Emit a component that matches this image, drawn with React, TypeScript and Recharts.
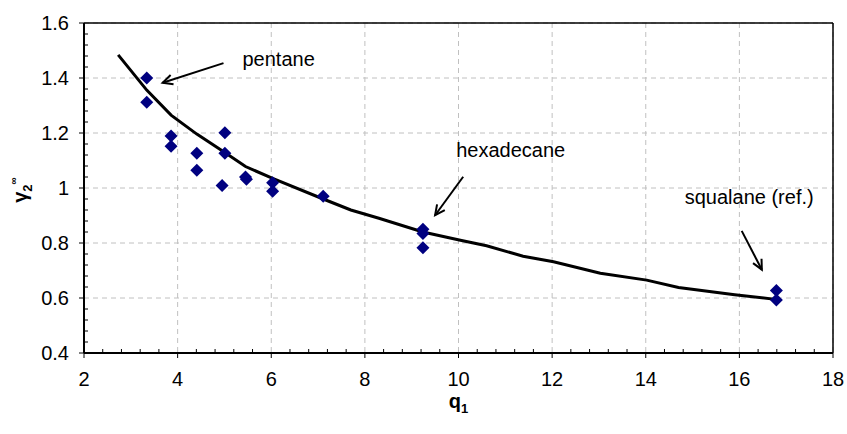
import {
  CartesianGrid,
  ComposedChart,
  Label,
  Line,
  ReferenceLine,
  Scatter,
  XAxis,
  YAxis,
} from "recharts";

// model curve, gamma2 at infinite dilution vs q1
const curveQ = [2.73, 3.34, 3.86, 4.41, 5.0, 5.45, 6.03, 7.11, 7.7, 8.3, 9.24, 10.04, 10.6, 11.38, 12.03, 13.03, 14.02, 14.7, 15.9, 16.77];
const curveGamma = [1.484, 1.356, 1.265, 1.196, 1.13, 1.078, 1.035, 0.96, 0.92, 0.89, 0.84, 0.81, 0.79, 0.752, 0.732, 0.69, 0.665, 0.638, 0.612, 0.595];

// measured solvents
const solventQ = [3.34, 3.34, 3.86, 3.86, 4.41, 4.41, 4.95, 5.01, 5.01, 5.45, 5.47, 6.03, 6.03, 7.11, 9.24, 9.24, 9.24, 16.79, 16.79];
const solventGamma = [1.4, 1.312, 1.189, 1.152, 1.126, 1.065, 1.009, 1.201, 1.126, 1.04, 1.032, 1.019, 0.988, 0.97, 0.85, 0.835, 0.783, 0.627, 0.593];

const xTicks = [2, 4, 6, 8, 10, 12, 14, 16, 18];
const yTicks = [0.4, 0.6, 0.8, 1, 1.2, 1.4, 1.6];

// callouts: text, arrow tail and arrow head in (q1, gamma)
const noteText = ["pentane", "hexadecane", "squalane (ref.)"];
const noteTail = [[4.98, 1.454], [10.1, 1.041], [16.05, 0.844]];
const noteHead = [[3.68, 1.383], [9.5, 0.901], [16.48, 0.703]];
const noteTextOffset = [[19, 3], [-7, -20], [-57, -27]];

const curve = curveQ.map((q, i) => ({ q, gamma: curveGamma[i] }));
const solvents = solventQ.map((q, i) => ({ q, gamma: solventGamma[i] }));

const minorX: number[] = [];
for (let i = 1; i < 40; i++) if (i % 5 !== 0) minorX.push(2 + i * 0.4);
const minorY: number[] = [];
for (let i = 1; i < 30; i++) if (i % 5 !== 0) minorY.push(0.4 + i * 0.04);

const FONT = "'Liberation Sans', Arial, Helvetica, sans-serif";
const TICK = { fontSize: 20, fill: "#000", fontFamily: FONT } as const;
const NAVY = "#000080";

function Diamond(props: any) {
  const { cx, cy } = props;
  if (cx == null || cy == null) return <g />;
  const r = 6.5;
  return (
    <polygon
      points={`${cx},${cy - r} ${cx + r},${cy} ${cx},${cy + r} ${cx - r},${cy}`}
      fill={NAVY}
    />
  );
}

function arrowShape(text: string, dx: number, dy: number) {
  return (p: any) => {
    const { x1, y1, x2, y2 } = p;
    const a = Math.atan2(y2 - y1, x2 - x1);
    const len = 11;
    const spread = 0.45;
    const hx1 = x2 - len * Math.cos(a - spread);
    const hy1 = y2 - len * Math.sin(a - spread);
    const hx2 = x2 - len * Math.cos(a + spread);
    const hy2 = y2 - len * Math.sin(a + spread);
    return (
      <g>
        <line x1={x1} y1={y1} x2={x2} y2={y2} stroke="#000" strokeWidth={2} />
        <polyline
          points={`${hx1},${hy1} ${x2},${y2} ${hx2},${hy2}`}
          fill="none"
          stroke="#000"
          strokeWidth={2}
        />
        <text x={x1 + dx} y={y1 + dy} fontSize={20} fontFamily={FONT} fill="#000">
          {text}
        </text>
      </g>
    );
  };
}

// short inward ticks on the bottom axis
function minorXTick(p: any) {
  const y = Math.max(p.y1, p.y2);
  return <line x1={p.x1} x2={p.x1} y1={y} y2={y - 4} stroke="#000" strokeWidth={1} />;
}

// short inward ticks on the left axis
function minorYTick(p: any) {
  const x = Math.min(p.x1, p.x2);
  return <line x1={x} x2={x + 4} y1={p.y1} y2={p.y1} stroke="#000" strokeWidth={1} />;
}

function QLabel(props: any) {
  const { x, y, width } = props.viewBox;
  return (
    <text x={x + width / 2} y={y + 55} textAnchor="middle" fontFamily={FONT} fontWeight="bold" fill="#000">
      <tspan fontSize={20}>q</tspan>
      <tspan fontSize={13} dy={5}>1</tspan>
    </text>
  );
}

function GammaLabel(props: any) {
  const { y, height } = props.viewBox;
  const cx = 27;
  const cy = y + height / 2 + 2;
  return (
    <text
      x={cx}
      y={cy}
      transform={`rotate(-90, ${cx}, ${cy})`}
      textAnchor="middle"
      fontFamily={FONT}
      fontWeight="bold"
      fill="#000"
    >
      <tspan fontSize={20}>γ</tspan>
      <tspan fontSize={13} dy={5}>2</tspan>
      <tspan fontSize={10} dy={-15}>∞</tspan>
    </text>
  );
}

export default function App() {
  return (
    <div style={{ position: "absolute", left: 0, top: 0, background: "#fff" }}>
      <ComposedChart width={847} height={434} margin={{ top: 23, right: 14, bottom: 0, left: 0 }}>
        <CartesianGrid stroke="#c0c0c0" strokeDasharray="5 4" />
        <XAxis
          type="number"
          dataKey="q"
          domain={[2, 18]}
          ticks={xTicks}
          allowDataOverflow
          height={81}
          tick={TICK}
          tickSize={5}
          tickMargin={14}
          axisLine={{ stroke: "#000", strokeWidth: 2 }}
          tickLine={{ stroke: "#000" }}
        >
          <Label content={QLabel} />
        </XAxis>
        <YAxis
          type="number"
          domain={[0.4, 1.6]}
          ticks={yTicks}
          allowDataOverflow
          width={84}
          tick={TICK}
          tickSize={5}
          tickMargin={10}
          axisLine={{ stroke: "#000", strokeWidth: 2 }}
          tickLine={{ stroke: "#000" }}
        >
          <Label content={GammaLabel} />
        </YAxis>
        <ReferenceLine y={1.6} stroke="#000" strokeWidth={1.5} />
        <ReferenceLine x={18} stroke="#000" strokeWidth={1.5} />
        {minorX.map((v) => (
          <ReferenceLine key={`mx${v}`} x={v} shape={minorXTick} />
        ))}
        {minorY.map((v) => (
          <ReferenceLine key={`my${v}`} y={v} shape={minorYTick} />
        ))}
        <Line
          data={curve}
          dataKey="gamma"
          stroke="#000"
          strokeWidth={3}
          dot={false}
          activeDot={false}
          type="linear"
          isAnimationActive={false}
        />
        <Scatter data={solvents} dataKey="gamma" fill={NAVY} shape={Diamond} isAnimationActive={false} />
        {noteText.map((t, i) => (
          <ReferenceLine
            key={t}
            segment={[
              { x: noteTail[i][0], y: noteTail[i][1] },
              { x: noteHead[i][0], y: noteHead[i][1] },
            ]}
            shape={arrowShape(t, noteTextOffset[i][0], noteTextOffset[i][1])}
          />
        ))}
      </ComposedChart>
    </div>
  );
}
